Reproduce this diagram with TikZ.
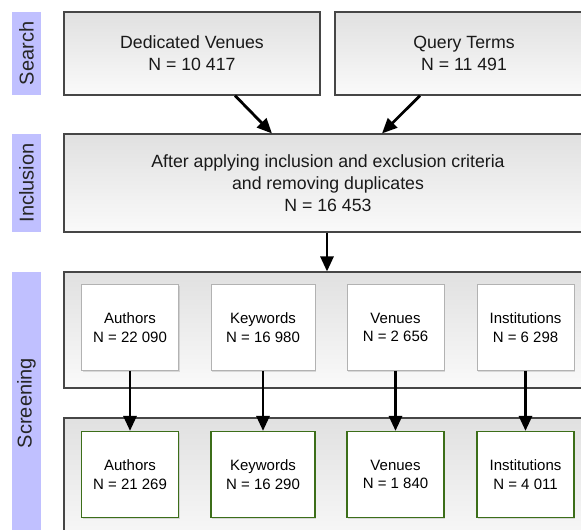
\documentclass[tikz,border=0pt]{standalone}
\usepackage{fontspec}
\setmainfont{Liberation Sans}
\usetikzlibrary{positioning,arrows.meta,shadows}

\definecolor{stripblue}{RGB}{192,192,255}
\definecolor{framegray}{RGB}{70,70,70}
\definecolor{keptgreen}{RGB}{60,110,25}

\begin{document}
\begin{tikzpicture}[
  x=1pt, y=-1pt,
  >={Triangle[length=15pt,width=13pt]},
  flow/.style={->, line width=2.8pt, black},
  stage/.style={rectangle, fill=stripblue, inner sep=0pt,
                font=\fontsize{20}{24}\selectfont, text=black!85},
  panel/.style={rectangle, draw=framegray, line width=1.1pt, inner sep=0pt,
                top color=black!12, bottom color=black!2, align=center,
                font=\fontsize{17.7}{22}\selectfont, text=black!90},
  facet/.style={rectangle, draw=black!30, line width=0.9pt, fill=white,
                inner sep=0pt, minimum width=97pt, minimum height=86pt,
                align=center, font=\fontsize{15}{18.5}\selectfont,
                drop shadow={shadow xshift=1pt, shadow yshift=-1.5pt, opacity=0.25}},
  kept/.style={facet, draw=keptgreen, line width=1.2pt}
]
\clip (0,0) rectangle (581,530);
\useasboundingbox (0,0) rectangle (581,530);

% phase strips on the left
\node[stage, minimum width=83pt, minimum height=29pt, rotate=90] (search) at (26.5,53.5) {Search};
\node[stage, minimum width=98pt, minimum height=29pt, rotate=90] (incl) at (26.5,183) {Inclusion};
\node[stage, minimum width=262pt, minimum height=29pt, rotate=90] (screen) at (26.5,403) {Screening};

% search sources
\node[panel, minimum width=256pt, minimum height=83pt] (venues) at (192,53.5) {Dedicated Venues\\N = 10 417};
\node[panel, minimum width=258pt, minimum height=83pt] (query) at (464,53.5) {Query Terms\\N = 11 491};

% merged set
\node[panel, minimum width=528pt, minimum height=98pt] (merged) at (328,183)
  {After applying inclusion and exclusion criteria\\and removing duplicates\\N = 16 453};

% screening panels
\node[panel, minimum width=528pt, minimum height=116pt] (before) at (328,330) {};
\node[panel, minimum width=528pt, minimum height=130pt] (after) at (328,483) {};

% facets before screening
\node[facet] (authA) at (130,327.5) {Authors\\N = 22 090};
\node[facet, minimum width=104pt] (keyA) at (263,327.5) {Keywords\\N = 16 980};
\node[facet] (venA) at (395.5,327.5) {Venues\\N = 2 656};
\node[facet] (instA) at (525.5,327.5) {Institutions\\N = 6 298};

% facets after screening
\node[kept] (authB) at (130,474.5) {Authors\\N = 21 269};
\node[kept, minimum width=104pt] (keyB) at (263,474.5) {Keywords\\N = 16 290};
\node[kept] (venB) at (395.5,474.5) {Venues\\N = 1 840};
\node[kept] (instB) at (525.5,474.5) {Institutions\\N = 4 011};

\draw[flow] ([xshift=43pt]venues.south) -- ([xshift=-56pt]merged.north);
\draw[flow] ([xshift=-44pt]query.south) -- ([xshift=54pt]merged.north);
\draw[flow] ([xshift=-1pt]merged.south) -- ([xshift=-1pt]before.north);
\draw[flow] (authA) -- (authB);
\draw[flow] (keyA) -- (keyB);
\draw[flow] (venA) -- (venB);
\draw[flow] (instA) -- (instB);

\end{tikzpicture}
\end{document}
